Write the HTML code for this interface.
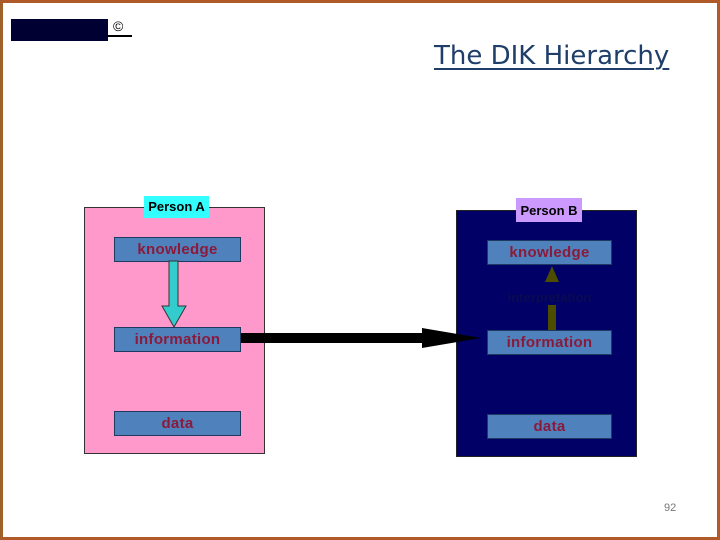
<!DOCTYPE html>
<html><head><style>
body{margin:0;}
#f{position:relative;width:720px;height:540px;background:#fff;overflow:hidden;font-family:"Liberation Sans",sans-serif;}
.a{position:absolute;box-sizing:border-box;}
.bx{position:absolute;box-sizing:border-box;background:#4f81bd;border:1px solid #1f3a60;color:#8b1a3a;font-weight:bold;font-size:15px;text-align:center;line-height:23px;font-family:"Liberation Sans",sans-serif;letter-spacing:0.3px;}
.lb{position:absolute;box-sizing:border-box;font-weight:bold;font-size:13px;text-align:center;color:#000;white-space:nowrap;font-family:"Liberation Sans",sans-serif;}
</style></head><body><div id="f">
<div class="a" style="left:0;top:0;width:720px;height:540px;border:3px solid #b05a2a;border-left-color:#a0602a;"></div>
<div class="a" style="left:11px;top:19px;width:97px;height:22px;background:#000033;"></div>
<div class="a" style="left:108px;top:35px;width:24px;height:2px;background:#000;"></div>
<div class="a" style="left:113px;top:18px;font-size:14px;">©</div>
<div class="a" style="left:434px;top:41px;color:#1f3f6a;text-decoration:underline;text-decoration-thickness:2px;text-underline-offset:4px;white-space:nowrap;font-family:'DejaVu Sans','Liberation Sans',sans-serif;font-size:26px;">The DIK Hierarchy</div>

<div class="a" style="left:84px;top:207px;width:181px;height:247px;background:#ff99cc;border:1px solid #333;"></div>
<div class="lb" style="left:144px;top:196px;width:65px;height:22px;background:#33ffff;line-height:22px;">Person A</div>
<div class="bx" style="left:114px;top:237px;width:127px;height:25px;">knowledge</div>
<div class="bx" style="left:114px;top:327px;width:127px;height:25px;">information</div>
<div class="bx" style="left:114px;top:411px;width:127px;height:25px;">data</div>

<div class="a" style="left:456px;top:210px;width:181px;height:247px;background:#000066;border:1px solid #222;"></div>
<div class="lb" style="left:516px;top:198px;width:66px;height:24px;background:#cc99ff;line-height:26px;">Person B</div>
<div class="bx" style="left:487px;top:240px;width:125px;height:25px;">knowledge</div>
<div class="bx" style="left:487px;top:330px;width:125px;height:25px;">information</div>
<div class="bx" style="left:487px;top:414px;width:125px;height:25px;">data</div>
<div class="lb" style="left:487px;top:290px;width:125px;color:#0a0a50;">interpretation</div>

<svg class="a" style="left:0;top:0" width="720" height="540">
<polygon points="169,261 178,261 178,306 186,306 174,327 162,306 169,306" fill="#33cccc" stroke="#333" stroke-width="1"/>
<polygon points="548,305 556,305 556,330 548,330" fill="#4d4d00"/>
<polygon points="552,266 559,282 545,282" fill="#4d4d00"/>
<polygon points="241,333 422,333 422,328 481,338 422,348 422,343 241,343" fill="#000"/>
</svg>
<div class="a" style="left:664px;top:502px;font-size:11px;color:#777;">92</div>
</div></body></html>
